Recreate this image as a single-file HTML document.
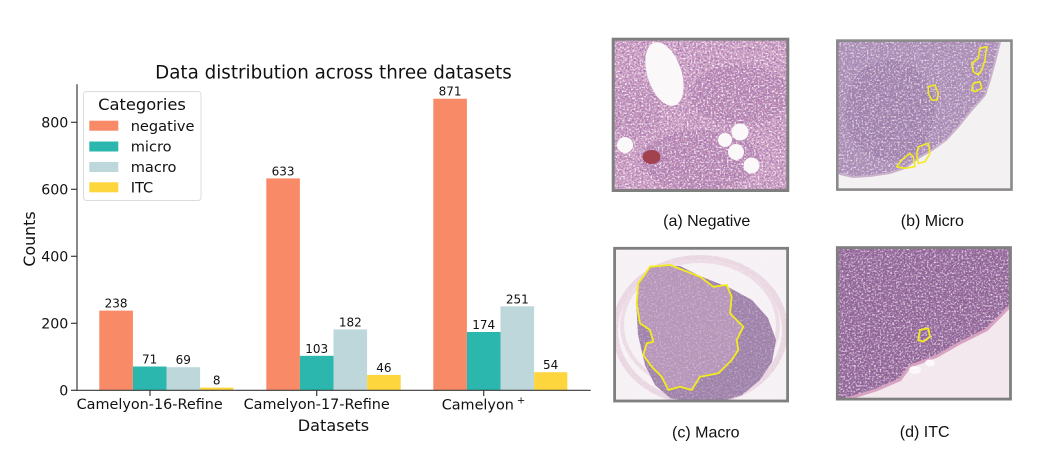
<!DOCTYPE html>
<html><head><meta charset="utf-8"><style>
html,body{margin:0;padding:0;background:#fff;}
svg{display:block;}
</style></head><body>
<svg width="1039" height="462" viewBox="0 0 1039 462" xmlns="http://www.w3.org/2000/svg">
<defs>
  <filter id="nd" x="0" y="0" width="1" height="1" filterUnits="objectBoundingBox">
    <feTurbulence type="fractalNoise" baseFrequency="0.5" numOctaves="2" seed="3"/>
    <feColorMatrix type="matrix" values="0 0 0 0 0.36  0 0 0 0 0.18  0 0 0 0 0.44  3.2 0 0 0 -1.35"/>
  </filter>
  <filter id="nw" x="0" y="0" width="1" height="1" filterUnits="objectBoundingBox">
    <feTurbulence type="fractalNoise" baseFrequency="0.55" numOctaves="2" seed="11"/>
    <feColorMatrix type="matrix" values="0 0 0 0 1  0 0 0 0 0.95  0 0 0 0 0.98  3.2 0 0 0 -1.55"/>
  </filter>
  <filter id="nl" x="0" y="0" width="1" height="1" filterUnits="objectBoundingBox">
    <feTurbulence type="fractalNoise" baseFrequency="0.2" numOctaves="2" seed="5"/>
    <feColorMatrix type="matrix" values="0 0 0 0 0.42  0 0 0 0 0.25  0 0 0 0 0.5  2.4 0 0 0 -1.1"/>
  </filter>
  <clipPath id="ca"><rect x="613" y="39" width="175" height="152"/></clipPath>
  <clipPath id="cb"><rect x="837" y="40" width="175" height="150"/></clipPath>
  <clipPath id="cc"><rect x="614" y="248" width="174" height="154"/></clipPath>
  <clipPath id="cd"><rect x="837" y="247" width="174" height="153"/></clipPath>
</defs>

<!-- ===== Chart ===== -->
<text x="333.5" y="78.3" font-family="DejaVu Sans, sans-serif" font-size="18.3" text-anchor="middle" fill="#111">Data distribution across three datasets</text>

<g>
<rect x="99.3" y="310.6" width="33.6" height="79.7" fill="#f98a68"/>
<rect x="132.9" y="366.5" width="33.6" height="23.8" fill="#2bb7ae"/>
<rect x="166.5" y="367.2" width="33.6" height="23.1" fill="#bdd7da"/>
<rect x="200.1" y="387.6" width="33.2" height="2.7" fill="#fdd63e"/>
<rect x="266.3" y="178.4" width="33.6" height="211.9" fill="#f98a68"/>
<rect x="299.9" y="355.8" width="33.6" height="34.5" fill="#2bb7ae"/>
<rect x="333.5" y="329.4" width="33.6" height="60.9" fill="#bdd7da"/>
<rect x="367.1" y="374.9" width="33.6" height="15.4" fill="#fdd63e"/>
<rect x="433.3" y="98.7" width="33.6" height="291.6" fill="#f98a68"/>
<rect x="466.9" y="332.0" width="33.6" height="58.3" fill="#2bb7ae"/>
<rect x="500.5" y="306.3" width="33.6" height="84.0" fill="#bdd7da"/>
<rect x="534.1" y="372.2" width="33.2" height="18.1" fill="#fdd63e"/>
</g>

<g font-family="DejaVu Sans, sans-serif" font-size="12" text-anchor="middle" fill="#111">
<text x="116.1" y="307.6">238</text>
<text x="149.7" y="363.5">71</text>
<text x="183.3" y="364.2">69</text>
<text x="216.7" y="384.6">8</text>
<text x="283.1" y="175.4">633</text>
<text x="316.7" y="352.8">103</text>
<text x="350.3" y="326.4">182</text>
<text x="383.9" y="371.9">46</text>
<text x="450.1" y="95.7">871</text>
<text x="483.7" y="329.0">174</text>
<text x="517.3" y="303.3">251</text>
<text x="550.7" y="369.2">54</text>
</g>

<g stroke="#3a3a3a" stroke-width="1.2" fill="none">
<line x1="77" y1="84.3" x2="77" y2="390.9"/>
<line x1="76.4" y1="390.3" x2="590.7" y2="390.3"/>
<line x1="71" y1="390.3" x2="77" y2="390.3"/>
<line x1="71" y1="323.3" x2="77" y2="323.3"/>
<line x1="71" y1="256.3" x2="77" y2="256.3"/>
<line x1="71" y1="189.3" x2="77" y2="189.3"/>
<line x1="71" y1="122.3" x2="77" y2="122.3"/>
<line x1="150" y1="390.3" x2="150" y2="396"/>
<line x1="316.7" y1="390.3" x2="316.7" y2="396"/>
<line x1="483.7" y1="390.3" x2="483.7" y2="396"/>
</g>
<g font-family="DejaVu Sans, sans-serif" font-size="14.2" text-anchor="end" fill="#111">
<text x="68.3" y="395.4">0</text>
<text x="68.3" y="328.4">200</text>
<text x="68.3" y="261.4">400</text>
<text x="68.3" y="194.4">600</text>
<text x="68.3" y="127.4">800</text>
</g>
<g font-family="DejaVu Sans, sans-serif" font-size="14.4" text-anchor="middle" fill="#111">
<text x="149.7" y="409">Camelyon-16-Refine</text>
<text x="316.7" y="409">Camelyon-17-Refine</text>
</g>
<text x="441.7" y="409.5" font-family="DejaVu Sans, sans-serif" font-size="14.4" fill="#111">Camelyon<tspan dx="3" dy="-6" font-size="10">+</tspan></text>

<text x="333.5" y="431" font-family="DejaVu Sans, sans-serif" font-size="16.1" text-anchor="middle" fill="#111">Datasets</text>
<text transform="translate(35,239) rotate(-90)" x="0" y="0" font-family="DejaVu Sans, sans-serif" font-size="15.8" text-anchor="middle" fill="#111">Counts</text>

<rect x="83.5" y="91.5" width="117.5" height="109" rx="3" ry="3" fill="#fff" fill-opacity="0.85" stroke="#dcdcdc" stroke-width="1"/>
<text x="142" y="110" font-family="DejaVu Sans, sans-serif" font-size="16.3" text-anchor="middle" fill="#111">Categories</text>
<rect x="89.3" y="120.7" width="29" height="10" fill="#f98a68"/>
<rect x="89.3" y="141.5" width="29" height="10" fill="#2bb7ae"/>
<rect x="89.3" y="162" width="29" height="10" fill="#bdd7da"/>
<rect x="89.3" y="182.3" width="29" height="10" fill="#fdd63e"/>
<g font-family="DejaVu Sans, sans-serif" font-size="14.6" fill="#111">
<text x="130.7" y="130.8">negative</text>
<text x="130.7" y="151.6">micro</text>
<text x="130.7" y="172">macro</text>
<text x="130.7" y="192.3">ITC</text>
</g>

<!-- ===== Image (a) Negative ===== -->
<g clip-path="url(#ca)">
  <rect x="613" y="39" width="175" height="152" fill="#d0a0c2"/>
  <ellipse cx="740" cy="95" rx="50" ry="30" fill="#b07ba9" opacity="0.6"/>
  <ellipse cx="700" cy="160" rx="60" ry="30" fill="#ad79a8" opacity="0.55"/>
  <ellipse cx="635" cy="110" rx="25" ry="30" fill="#bb89b4" opacity="0.5"/>
  <rect x="613" y="39" width="175" height="152" filter="url(#nd)"/>
  <rect x="613" y="39" width="175" height="152" filter="url(#nw)"/>
  <ellipse cx="664.5" cy="74" rx="17" ry="33" transform="rotate(-18 664.5 74)" fill="#fbf8fa"/>
  <circle cx="625" cy="145" r="8" fill="#fbf8fa"/>
  <circle cx="740" cy="132" r="8.5" fill="#fbf8fa"/>
  <circle cx="725" cy="140" r="7" fill="#fbf8fa"/>
  <circle cx="736" cy="152" r="8" fill="#fbf8fa"/>
  <circle cx="751.5" cy="165.5" r="8" fill="#fbf8fa"/>
  <ellipse cx="651.5" cy="157" rx="9" ry="7" fill="#a2424f"/>
</g>
<rect x="613.2" y="39.2" width="174.6" height="151.3" fill="none" stroke="#7f7f7f" stroke-width="3"/>

<!-- ===== Image (b) Micro ===== -->
<g clip-path="url(#cb)">
  <rect x="837" y="40" width="175" height="150" fill="#a98db4"/>
  <ellipse cx="890" cy="110" rx="45" ry="50" fill="#94739f" opacity="0.5"/>
  <rect x="837" y="40" width="175" height="150" filter="url(#nl)"/>
  <rect x="837" y="40" width="175" height="150" filter="url(#nw)" opacity="0.8"/>
  <path d="M1013,39 L1000,42 L996,58 L990,80 L985,95 L970,112 L958,127 L946,140 L932,150 L920,157 L905,168 L890,173 L870,176 L853,177 L840,174 L836,176 L836,191 L1013,191 Z" fill="#f4f1f3"/>
  <path d="M1000,42 L996,58 L990,80 L985,95 L970,112 L958,127 L946,140 L932,150 L920,157 L905,168 L890,173 L870,176 L853,177 L840,174" fill="none" stroke="#c9b3cb" stroke-width="2"/>
  <g fill="none" stroke="#f2ea22" stroke-width="1.6" stroke-linejoin="round">
    <path d="M928.3,86.7 L935,85 L938.3,93.3 L937.3,100 L931.7,100 L928.3,93.3 Z"/>
    <path d="M980,48.3 L986.7,46.7 L985,60 L981.7,70 L978.3,75 L973.3,71.7 L971.7,63.3 L978.3,58.3 Z"/>
    <path d="M973.3,83.3 L980,81.7 L981.7,88.3 L975,91.7 L971.7,90 Z"/>
    <path d="M918.3,146.7 L928.3,143.3 L930,153.3 L925,161.7 L918.3,163.3 L916.7,155 Z"/>
    <path d="M910,153.3 L913.3,156.7 L915,166.7 L905,168.3 L896.7,166.7 L901.7,160 Z"/>
  </g>
</g>
<rect x="837.3" y="40.6" width="174.2" height="149" fill="none" stroke="#8a8a8a" stroke-width="2.6"/>

<!-- ===== Image (c) Macro ===== -->
<g clip-path="url(#cc)">
  <rect x="614" y="248" width="174" height="154" fill="#f6f1f4"/>
  <ellipse cx="700" cy="330" rx="85" ry="72" fill="none" stroke="#e6cfdc" stroke-width="6" opacity="0.8"/>
  <ellipse cx="700" cy="325" rx="78" ry="64" fill="none" stroke="#ecdbe4" stroke-width="4"/>
  <path d="M700,276 L730,288 L752,300 L768,318 L776,340 L772,362 L760,380 L742,395 L720,402 L690,402 L670,398 L655,385 L645,365 L638,335 L636,300 L642,278 L660,266 L680,266 Z" fill="#9f82aa"/>
  <path d="M650,266.7 L670,265 L700,276.7 L713.3,286.7 L726.7,285 L731.7,296.7 L730,313.3 L743.3,326.7 L736.7,340 L738.3,350 L731.7,360 L725,366.7 L718.3,373.3 L700,376.7 L691.7,390 L680,386.7 L668.3,390 L661.7,376.7 L651.7,366.7 L643.3,355 L646.7,343.3 L653.3,341.7 L650,330 L640,323.3 L636.7,303.3 L638.3,283.3 L643.3,276.7 Z" fill="#b695b9"/>
  <rect x="614" y="248" width="174" height="154" filter="url(#nw)" opacity="0.35"/>
  <path d="M650,266.7 L670,265 L700,276.7 L713.3,286.7 L726.7,285 L731.7,296.7 L730,313.3 L743.3,326.7 L736.7,340 L738.3,350 L731.7,360 L725,366.7 L718.3,373.3 L700,376.7 L691.7,390 L680,386.7 L668.3,390 L661.7,376.7 L651.7,366.7 L643.3,355 L646.7,343.3 L653.3,341.7 L650,330 L640,323.3 L636.7,303.3 L638.3,283.3 L643.3,276.7 Z" fill="none" stroke="#f3ec1c" stroke-width="1.8" stroke-linejoin="round"/>
</g>
<rect x="614.6" y="248.3" width="173" height="152.7" fill="none" stroke="#7f7f7f" stroke-width="2.8"/>

<!-- ===== Image (d) ITC ===== -->
<g clip-path="url(#cd)">
  <rect x="837" y="247" width="174" height="153" fill="#8d6290"/>
  <rect x="837" y="247" width="174" height="153" filter="url(#nd)"/>
  <rect x="837" y="247" width="174" height="153" filter="url(#nw)" opacity="0.8"/>
  <path d="M1012,300 L1010,306.3 L986.7,329.7 L960,343 L936.7,356.3 L910,366.3 L900,379.7 L876.7,389.7 L850,398 L836,401 L1012,401 Z" fill="#f3e8ee"/>
  <path d="M1012,300 L1010,306.3 L986.7,329.7 L960,343 L936.7,356.3 L910,366.3 L900,379.7 L876.7,389.7 L850,398 L836,401" fill="none" stroke="#d7a3c0" stroke-width="3"/>
  <ellipse cx="915" cy="370" rx="6" ry="4" fill="#fbf7fa"/>
  <ellipse cx="930" cy="363" rx="5" ry="3.5" fill="#fbf7fa"/>
  <path d="M920,330 L928.3,328.3 L930,336.7 L923.3,341.7 L918.3,340 Z" fill="none" stroke="#f3ec1c" stroke-width="1.8" stroke-linejoin="round"/>
</g>
<rect x="837.3" y="247.6" width="173.2" height="151.5" fill="none" stroke="#7f7f7f" stroke-width="2.8"/>

<g font-family="Liberation Sans, sans-serif" font-size="16" text-anchor="middle" fill="#111">
<text x="706.7" y="226">(a) Negative</text>
<text x="932.3" y="226">(b) Micro</text>
<text x="705.8" y="437.3">(c) Macro</text>
<text x="924.7" y="437">(d) ITC</text>
</g>
</svg>
</body></html>
